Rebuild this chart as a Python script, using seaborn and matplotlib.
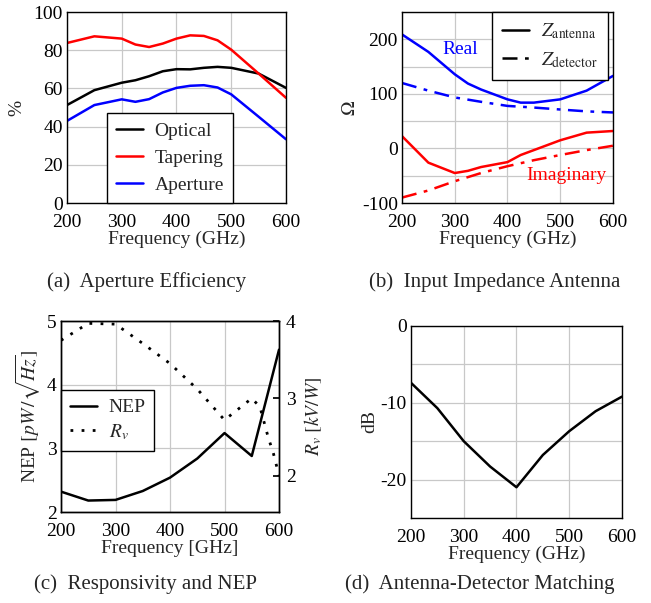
import numpy as np
import pandas as pd
import seaborn as sns
import matplotlib.pyplot as plt
from matplotlib.lines import Line2D
from matplotlib.ticker import MultipleLocator, FixedLocator

# --- Data ---
# (a) aperture efficiency
freq_a = [200, 250, 300, 325, 350, 375, 400, 425, 450, 475, 500, 550, 600]
optical = [51.3, 59.1, 63.0, 64.3, 66.4, 69.0, 70.1, 70.0, 70.8, 71.3, 70.8, 67.8, 60.3]
tapering = [83.8, 87.3, 86.1, 83.0, 81.7, 83.5, 86.1, 87.8, 87.5, 85.2, 80.3, 67.8, 55.1]
aperture = [43.0, 51.3, 54.3, 53.0, 54.4, 57.9, 60.3, 61.4, 61.7, 60.5, 56.9, 45.2, 33.4]

# (b) input impedance
freq_b = [200, 250, 300, 325, 350, 400, 425, 450, 500, 550, 600]
real_ant = [209, 177, 136, 119, 108, 90, 84, 84, 90, 106, 133]
imag_ant = [22.6, -26, -45, -41, -34, -25, -12, -3, 15, 29, 32]
freq_det = [200, 250, 300, 350, 400, 450, 500, 550, 600]
real_det = [120, 106, 93.5, 85.5, 78, 75, 71.4, 68, 66]
imag_det = [-90, -77, -60, -45, -32.5, -21.5, -12, -3, 5]

# (c) responsivity and NEP
freq_c = [200, 250, 300, 350, 400, 450, 500, 550, 600]
nep = [2.32, 2.18, 2.19, 2.33, 2.54, 2.84, 3.24, 2.88, 4.55]
freq_rv = [200, 250, 300, 350, 400, 450, 500, 550, 565, 580, 590, 600]
rv = [3.75, 3.97, 3.96, 3.71, 3.45, 3.12, 2.72, 3.0, 2.89, 2.5, 2.28, 2.0]

# (d) antenna-detector matching
freq_d = [200, 250, 300, 350, 400, 450, 500, 550, 600]
match_db = [-7.4, -10.7, -15.0, -18.3, -21.0, -16.8, -13.7, -11.1, -9.2]

# --- Style ---
sns.set_theme(style="white")
plt.rcParams['font.family'] = ['Liberation Serif', 'DejaVu Serif']
plt.rcParams['mathtext.fontset'] = 'stix'
plt.rcParams['axes.unicode_minus'] = False

FS = 14       # ticks and axis labels
CAP_FS = 15   # sub-figure captions
LW = 1.8
DASHDOT = (0, (6, 3, 1.5, 3))
DOTTED = (0, (1, 3))
GRID = dict(color='#c8c8c8', linewidth=0.9)


def style_axes(ax):
    ax.tick_params(axis='both', which='both', length=0, labelsize=FS,
                   colors='black')
    ax.tick_params(axis='x', pad=8)
    ax.tick_params(axis='y', pad=3)
    ax.set_axisbelow(True)
    for s in ax.spines.values():
        s.set_color('black')
        s.set_linewidth(1.0)


def legend_box(ax, handles, labels, **kw):
    leg = ax.legend(handles, labels, fontsize=FS, fancybox=False, framealpha=1,
                    edgecolor='black', handlelength=1.4, handletextpad=0.6,
                    borderaxespad=0, **kw)
    leg.get_frame().set_linewidth(1.0)
    return leg


fig = plt.figure(figsize=(6.51, 6.03), dpi=100)
ax_a = fig.add_axes([0.1029, 0.6633, 0.3364, 0.3167])
ax_b = fig.add_axes([0.6175, 0.6633, 0.3241, 0.3167])
ax_c = fig.add_axes([0.0937, 0.1509, 0.3349, 0.3167])
ax_d = fig.add_axes([0.6313, 0.1410, 0.3241, 0.3184])

# --- (a) ---
df_a = pd.DataFrame({'f': freq_a, 'Optical': optical, 'Tapering': tapering,
                     'Aperture': aperture})
for name, col in [('Optical', 'black'), ('Tapering', 'red'), ('Aperture', 'blue')]:
    sns.lineplot(data=df_a, x='f', y=name, ax=ax_a, color=col, lw=LW, label=name)
ax_a.set_xlim(200, 600)
ax_a.set_ylim(0, 100)
ax_a.xaxis.set_major_locator(MultipleLocator(100))
ax_a.yaxis.set_major_locator(MultipleLocator(20))
ax_a.grid(True, **GRID)
ax_a.set_xlabel('Frequency (GHz)', fontsize=FS, labelpad=0)
ax_a.set_ylabel('%', fontsize=FS, labelpad=6)
style_axes(ax_a)
h, l = ax_a.get_legend_handles_labels()
legend_box(ax_a, h, l, loc='lower center', bbox_to_anchor=(0.47, 0.0),
           borderpad=0.45, labelspacing=0.5)

# --- (b) ---
df_ant = pd.DataFrame({'f': freq_b, 're': real_ant, 'im': imag_ant})
df_det = pd.DataFrame({'f': freq_det, 're': real_det, 'im': imag_det})
sns.lineplot(data=df_ant, x='f', y='re', ax=ax_b, color='blue', lw=LW)
sns.lineplot(data=df_det, x='f', y='re', ax=ax_b, color='blue', lw=LW,
             linestyle=DASHDOT)
sns.lineplot(data=df_ant, x='f', y='im', ax=ax_b, color='red', lw=LW)
sns.lineplot(data=df_det, x='f', y='im', ax=ax_b, color='red', lw=LW,
             linestyle=DASHDOT)
ax_b.set_xlim(200, 600)
ax_b.set_ylim(-100, 250)
ax_b.xaxis.set_major_locator(MultipleLocator(100))
ax_b.yaxis.set_major_locator(FixedLocator([-100, 0, 100, 200]))
ax_b.yaxis.set_minor_locator(FixedLocator([-50, 50, 150, 250]))
ax_b.grid(True, which='both', **GRID)
ax_b.set_xlabel('Frequency (GHz)', fontsize=FS, labelpad=0)
ax_b.set_ylabel(r'$\Omega$', fontsize=FS, labelpad=2)
ax_b.text(310, 182, 'Real', color='blue', fontsize=FS, ha='center', va='center')
ax_b.text(511, -49, 'Imaginary', color='red', fontsize=FS, ha='center', va='center')
style_axes(ax_b)
hb = [Line2D([], [], color='black', lw=LW),
      Line2D([], [], color='black', lw=LW, linestyle=DASHDOT)]
legend_box(ax_b, hb, [r'$Z_{\rm antenna}$', r'$Z_{\rm detector}$'],
           loc='upper right', bbox_to_anchor=(0.975, 1.0),
           borderpad=0.5, labelspacing=0.45)

# --- (c) ---
ax_c2 = ax_c.twinx()
df_nep = pd.DataFrame({'f': freq_c, 'nep': nep})
df_rv = pd.DataFrame({'f': freq_rv, 'rv': rv})
sns.lineplot(data=df_nep, x='f', y='nep', ax=ax_c, color='black', lw=LW)
sns.lineplot(data=df_rv, x='f', y='rv', ax=ax_c2, color='black', lw=2.0,
             linestyle=DOTTED)
ax_c.set_xlim(200, 600)
ax_c.set_ylim(2, 5)
ax_c2.set_ylim(1.53, 4.0)
ax_c.xaxis.set_major_locator(MultipleLocator(100))
ax_c.yaxis.set_major_locator(MultipleLocator(1))
ax_c2.yaxis.set_major_locator(MultipleLocator(1))
ax_c.grid(True, **GRID)
ax_c.set_xlabel('Frequency [GHz]', fontsize=FS, labelpad=0)
ax_c.set_ylabel(r'NEP $[pW\,/\sqrt{Hz}]$', fontsize=FS, labelpad=3)
ax_c2.set_ylabel(r'$R_v\ [kV/W]$', fontsize=FS, labelpad=5)
style_axes(ax_c)
style_axes(ax_c2)
ax_c2.tick_params(axis='y', length=4, direction='in', pad=5)
hc = [Line2D([], [], color='black', lw=LW),
      Line2D([], [], color='black', lw=2.0, linestyle=DOTTED)]
legend_box(ax_c, hc, ['NEP', r'$R_v$'], loc='center left',
           bbox_to_anchor=(0.0, 0.48), borderpad=0.45, labelspacing=0.3)

# --- (d) ---
df_d = pd.DataFrame({'f': freq_d, 'db': match_db})
sns.lineplot(data=df_d, x='f', y='db', ax=ax_d, color='black', lw=LW)
ax_d.set_xlim(200, 600)
ax_d.set_ylim(-25, 0)
ax_d.xaxis.set_major_locator(MultipleLocator(100))
ax_d.yaxis.set_major_locator(FixedLocator([-20, -10, 0]))
ax_d.yaxis.set_minor_locator(FixedLocator([-25, -15, -5]))
ax_d.grid(True, which='both', **GRID)
ax_d.set_xlabel('Frequency (GHz)', fontsize=FS, labelpad=0)
ax_d.set_ylabel('dB', fontsize=FS, labelpad=2)
style_axes(ax_d)

# --- captions ---
fig.text(147 / 651, 1 - 282 / 603, '(a)  Aperture Efficiency', fontsize=CAP_FS,
         ha='center', va='center')
fig.text(495 / 651, 1 - 282 / 603, '(b)  Input Impedance Antenna', fontsize=CAP_FS,
         ha='center', va='center')
fig.text(145 / 651, 1 - 584 / 603, '(c)  Responsivity and NEP', fontsize=CAP_FS,
         ha='center', va='center')
fig.text(480 / 651, 1 - 584 / 603, '(d)  Antenna-Detector Matching', fontsize=CAP_FS,
         ha='center', va='center')

fig.savefig('out.png', dpi=100)
